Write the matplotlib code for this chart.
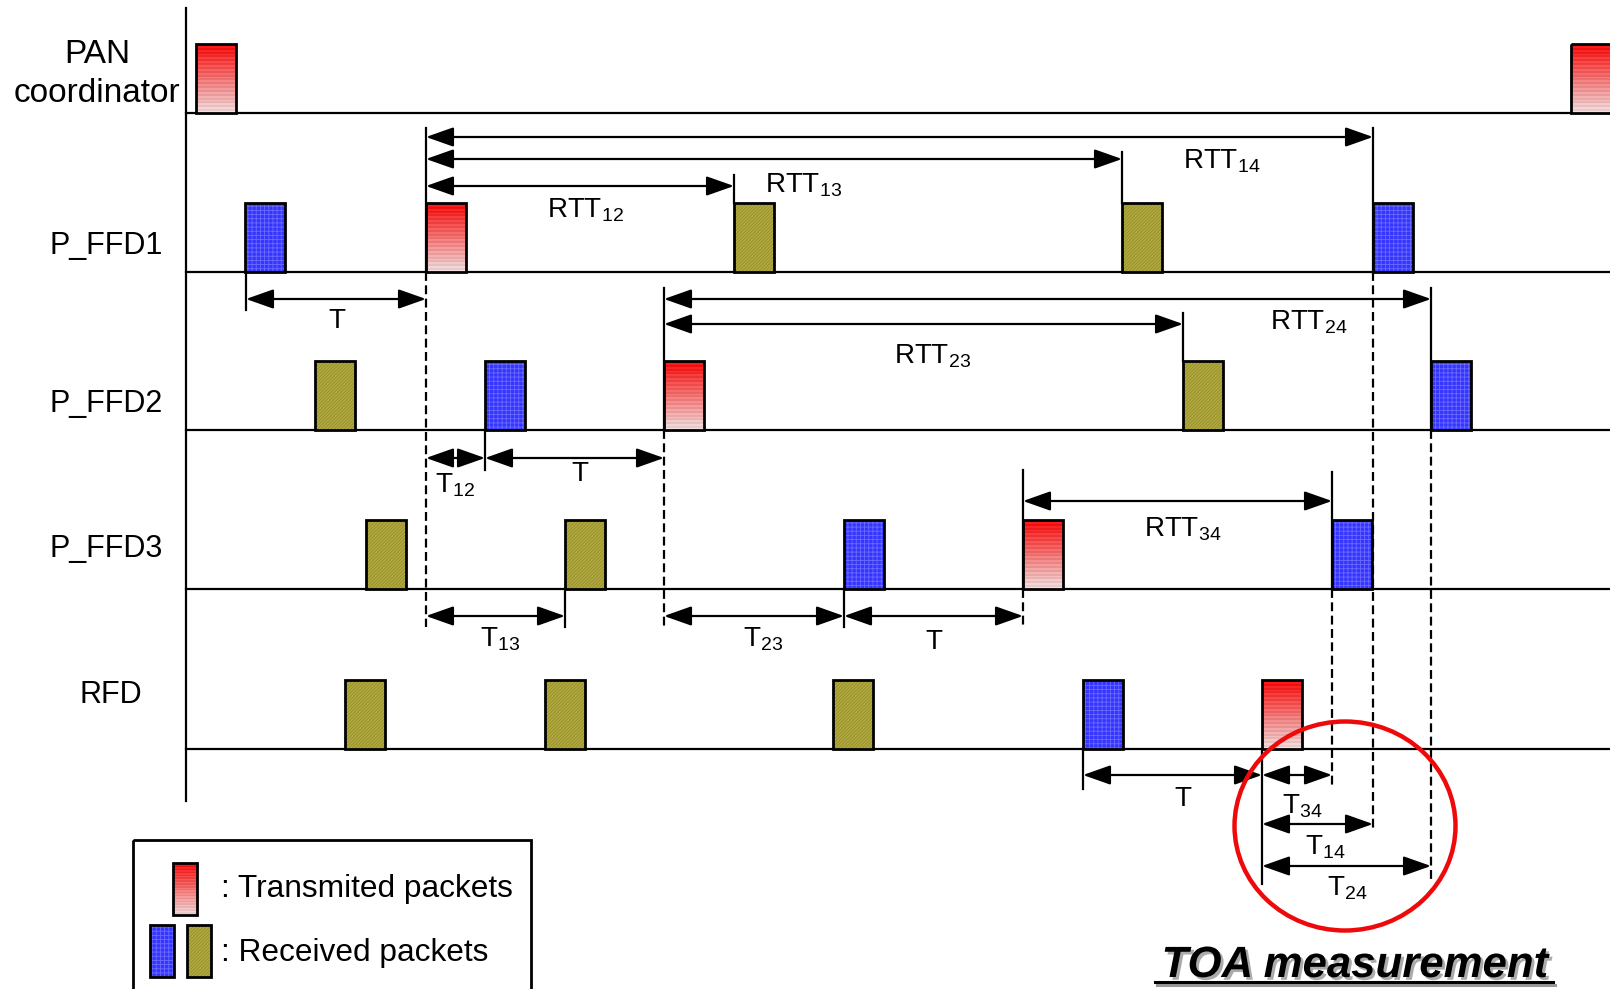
import matplotlib
matplotlib.use("Agg")
import matplotlib.pyplot as plt
import matplotlib.patheffects as pe
from matplotlib.patches import Rectangle, Ellipse
import numpy as np

plt.rcParams["font.family"] = ["Liberation Sans", "DejaVu Sans"]
plt.rcParams["mathtext.fontset"] = "custom"
plt.rcParams["mathtext.rm"] = "Liberation Sans"
plt.rcParams["mathtext.it"] = "Liberation Sans:italic"

# time axis is in drawing units (pixels of the original diagram)
row_names = ["PAN\ncoordinator", "P_FFD1", "P_FFD2", "P_FFD3", "RFD"]
row_base = [113, 272, 430, 589, 749]
row_label_x = [97, 106, 106, 106, 111]
row_label_y = [74, 246, 404, 549, 695]
row_font = [24, 22, 22, 22, 22]

# packet start times per row, and packet kind: tx = transmitted, rb / ro = received (blue / olive)
pan_times = [196, 1571]
pan_kinds = ["tx", "tx"]
ffd1_times = [245, 426, 734, 1122, 1373]
ffd1_kinds = ["rb", "tx", "ro", "ro", "rb"]
ffd2_times = [315, 485, 664, 1183, 1431]
ffd2_kinds = ["ro", "rb", "tx", "ro", "rb"]
ffd3_times = [366, 565, 844, 1023, 1332]
ffd3_kinds = ["ro", "ro", "rb", "tx", "rb"]
rfd_times = [345, 545, 833, 1083, 1262]
rfd_kinds = ["ro", "ro", "ro", "rb", "tx"]
row_times = [pan_times, ffd1_times, ffd2_times, ffd3_times, rfd_times]
row_kinds = [pan_kinds, ffd1_kinds, ffd2_kinds, ffd3_kinds, rfd_kinds]

# interval arrows
arrow_start = [426, 426, 426, 246, 664, 664, 426, 485, 1023, 426, 664, 844, 1083, 1262, 1262, 1262]
arrow_end = [1373, 1122, 734, 426, 1431, 1183, 485, 664, 1332, 565, 844, 1023, 1262, 1332, 1373, 1431]
arrow_y = [137, 159, 186, 299, 299, 324, 458, 458, 501, 616, 616, 616, 775, 775, 824, 866]
arrow_labels = [r"RTT$_{14}$", r"RTT$_{13}$", r"RTT$_{12}$", "T", r"RTT$_{24}$", r"RTT$_{23}$",
                r"T$_{12}$", "T", r"RTT$_{34}$", r"T$_{13}$", r"T$_{23}$", "T",
                "T", r"T$_{34}$", r"T$_{14}$", r"T$_{24}$"]
label_x = [1222, 804, 585, 337, 1309, 933, 455, 580, 1183, 500, 763, 934, 1183, 1302, 1325, 1347]
label_y = [161, 185, 210, 321, 322, 356, 485, 474, 529, 639, 639, 642, 799, 806, 847, 888]

# solid and dashed reference marks (x, y from, y to)
solid_x = [426, 246, 734, 1122, 1373, 664, 1183, 1431, 485, 1023, 1332, 565, 844, 1083, 1262]
solid_y0 = [128, 272, 175, 152, 128, 288, 313, 288, 430, 470, 472, 589, 589, 749, 749]
solid_y1 = [272, 310, 203, 203, 272, 430, 361, 430, 470, 589, 589, 627, 627, 789, 884]
dash_x = [426, 664, 1023, 1332, 1373, 1431]
dash_y0 = [272, 430, 589, 589, 272, 430]
dash_y1 = [627, 627, 627, 786, 831, 880]

PW, PH = 40, 69


def red_gradient():
    t = np.linspace(0, 1, 36)[:, None]
    top = np.array([0.93, 0.02, 0.02])
    bot = np.array([0.90, 0.82, 0.82])
    rgb = top + (bot - top) * t
    rgb[1::2] = np.clip(rgb[1::2] + 0.06, 0, 1)
    return rgb[:, None, :]


def draw_packet(ax, x, base, kind, w=PW, h=PH):
    top = base - h
    if kind == "tx":
        ax.imshow(red_gradient(), extent=(x, x + w, base, top), aspect="auto",
                  interpolation="nearest", zorder=2)
    elif kind == "rb":
        ax.add_patch(Rectangle((x, top), w, h, facecolor="#3535ff", edgecolor="#6a6aff",
                               hatch="++++", lw=0, zorder=2))
    else:
        ax.add_patch(Rectangle((x, top), w, h, facecolor="#b2ab40", edgecolor="#948c2c",
                               hatch="//////////", lw=0, zorder=2))
    ax.add_patch(Rectangle((x, top), w, h, fill=False, edgecolor="black", lw=2, zorder=3))


plt.rcParams["hatch.linewidth"] = 0.6
fig = plt.figure(figsize=(16.1, 9.89), dpi=100)
ax = fig.add_axes([0, 0, 1, 1])

# timelines
ax.plot([186, 186], [8, 801], color="black", lw=1.6)
for name, base, lx, ly, fs in zip(row_names, row_base, row_label_x, row_label_y, row_font):
    ax.plot([186, 1610], [base, base], color="black", lw=1.6, zorder=1)
    ax.text(lx, ly, name, fontsize=fs, ha="center", va="center", linespacing=1.35)

for times, kinds, base in zip(row_times, row_kinds, row_base):
    for t, k in zip(times, kinds):
        draw_packet(ax, t, base, k)

for x, y0, y1 in zip(solid_x, solid_y0, solid_y1):
    ax.plot([x, x], [y0, y1], color="black", lw=1.6, zorder=4)
for x, y0, y1 in zip(dash_x, dash_y0, dash_y1):
    ax.plot([x, x], [y0, y1], color="black", lw=1.6, ls=(0, (4, 2)), zorder=4)

for x0, x1, y, lab, tx, ty in zip(arrow_start, arrow_end, arrow_y, arrow_labels, label_x, label_y):
    ax.annotate("", xy=(x1, y), xytext=(x0, y),
                arrowprops=dict(arrowstyle="<|-|>,head_length=0.85,head_width=0.3",
                                mutation_scale=20, lw=1.6, color="black",
                                shrinkA=0, shrinkB=0), zorder=5)
    ax.text(tx, ty, lab, fontsize=20, ha="center", va="center", zorder=5)

# TOA highlight
ax.add_patch(Ellipse((1345, 826), 221, 209, fill=False, edgecolor="#ee0a0a", lw=3.2, zorder=6))
ax.text(1355, 977, "TOA measurement", fontsize=31.5, fontweight="bold", fontstyle="italic",
        ha="center", va="baseline", zorder=6,
        path_effects=[pe.SimplePatchShadow(offset=(2, -2), shadow_rgbFace="#888888", alpha=0.7),
                      pe.Normal()])
ax.plot([1157, 1555], [985, 985], color="#999999", lw=2.2, zorder=6)
ax.plot([1155, 1553], [982, 982], color="black", lw=2.2, zorder=6)

# legend
ax.add_patch(Rectangle((133, 840), 398, 170, fill=False, edgecolor="black", lw=2, zorder=6))
draw_packet(ax, 173, 915, "tx", w=24, h=52)
draw_packet(ax, 150, 977, "rb", w=24, h=52)
draw_packet(ax, 187, 977, "ro", w=24, h=52)
ax.text(221, 889, ": Transmited packets", fontsize=22.8, ha="left", va="center")
ax.text(221, 953, ": Received packets", fontsize=22.8, ha="left", va="center")

ax.set_xlim(0, 1610)
ax.set_ylim(989, 0)
ax.axis("off")
fig.savefig("out.png", dpi=100)
